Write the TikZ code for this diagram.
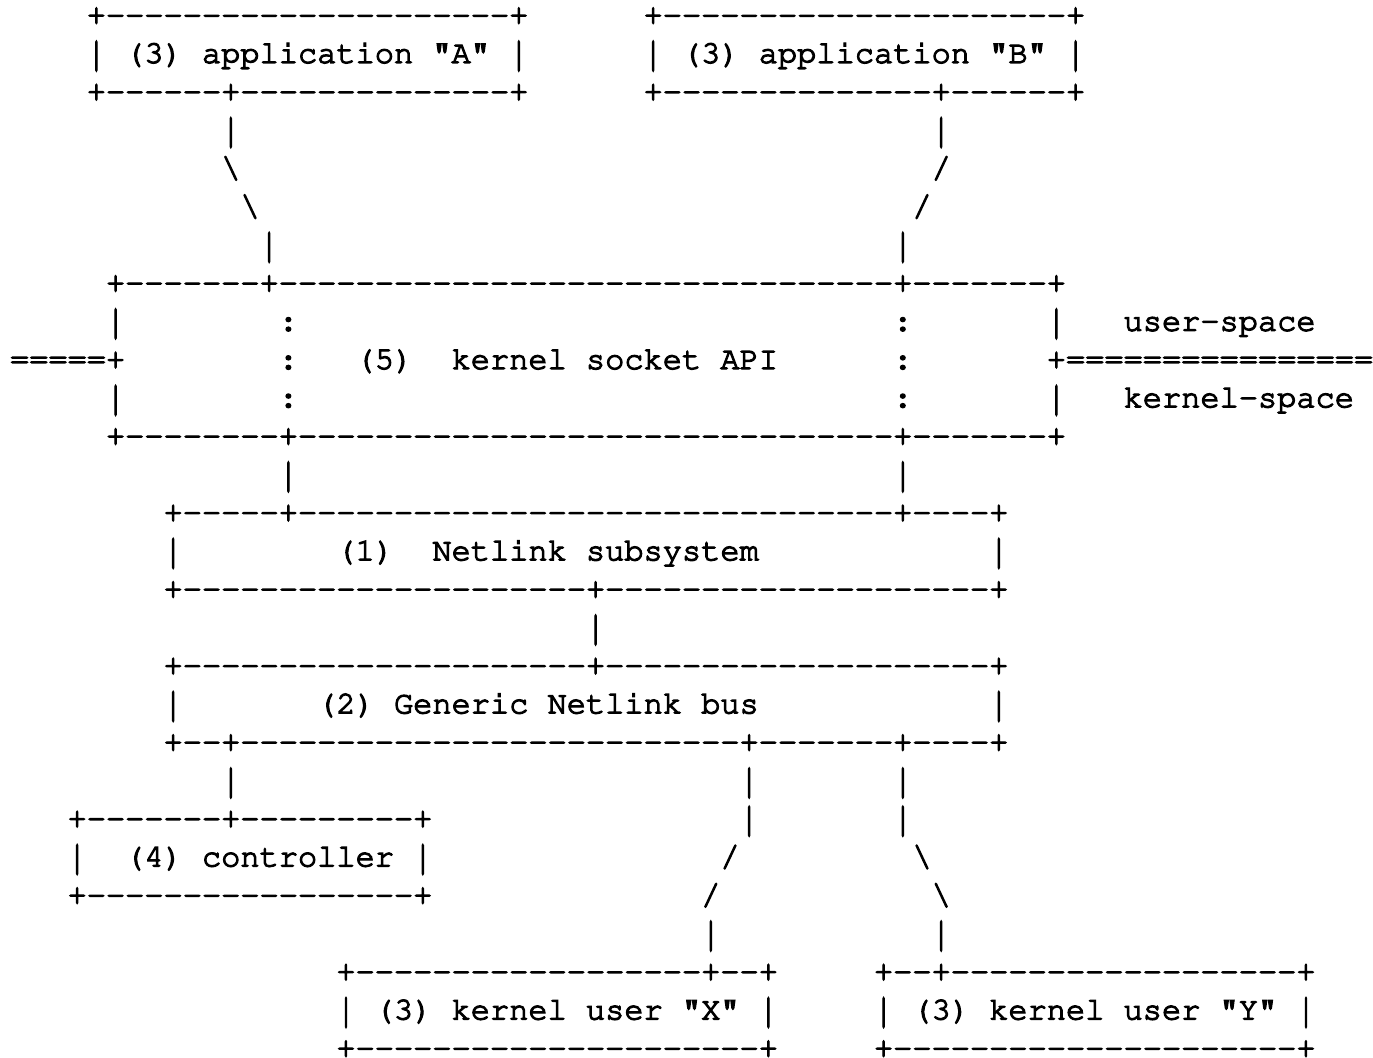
\documentclass[tikz,border=0pt]{standalone}
\usepackage[T1,TU]{fontenc}
\usepackage{graphicx}
\frenchspacing
\newcommand\rp[2]{\ifnum#1>0 #2{}\expandafter\rp\expandafter{\the\numexpr#1-1\relax}{#2}\fi}
% taller vertical bar, as in the reference's Courier
\newcommand\vb{\raisebox{-1.56pt}{\scalebox{1}[1.3]{|}}}
\newcommand\heavy{\special{pdf:literal direct 2 Tr 0.6 w}}
\tikzset{
  txt/.style={anchor=base west, inner sep=0pt, outer sep=0pt,
    font=\fontencoding{T1}\fontfamily{pcr}\fontsize{16}{19}\selectfont\frenchspacing},
  execute at begin node=\heavy
}
\newcommand\Ln[4]{\node[txt] (#1) at ({10+19.2*#2},{24.7+38.26*(#3-1)}) {#4};}
\begin{document}
\begin{tikzpicture}[x=0.5pt,y=-0.5pt]
\fill[white] (0,0) rectangle (1373,1058);
\useasboundingbox (0,0) rectangle (1373,1058);
% line 1-3: applications
\Ln{a1}{4}{1}{+\rp{21}{-}+}
\Ln{b1}{33}{1}{+\rp{21}{-}+}
\Ln{a2}{4}{2}{\vb{} (3) application "A" \vb}
\Ln{b2}{33}{2}{\vb{} (3) application "B" \vb}
\Ln{a3}{4}{3}{+\rp{6}{-}+\rp{14}{-}+}
\Ln{b3}{33}{3}{+\rp{14}{-}+\rp{6}{-}+}
% links down to socket API
\Ln{a4}{11}{4}{\vb}
\Ln{b4}{48}{4}{\vb}
\Ln{a5}{11}{5}{\textbackslash}
\Ln{b5}{48}{5}{/}
\Ln{a6}{12}{6}{\textbackslash}
\Ln{b6}{47}{6}{/}
\Ln{a7}{13}{7}{\vb}
\Ln{b7}{46}{7}{\vb}
% kernel socket API box
\Ln{k8}{5}{8}{+\rp{7}{-}+\rp{32}{-}+\rp{7}{-}+}
\Ln{k9a}{5}{9}{\vb}
\Ln{k9b}{14}{9}{:}
\Ln{k9c}{46}{9}{:}
\Ln{k9d}{54}{9}{\vb}
\Ln{us}{58}{9}{user-space}
\Ln{k10a}{0}{10}{\rp{5}{=}+}
\Ln{k10b}{14}{10}{:}
\Ln{k10c}{18}{10}{(5)}
\Ln{k10d}{23}{10}{kernel socket API}
\Ln{k10e}{46}{10}{:}
\Ln{k10f}{54}{10}{+\rp{16}{=}}
\Ln{k11a}{5}{11}{\vb}
\Ln{k11b}{14}{11}{:}
\Ln{k11c}{46}{11}{:}
\Ln{k11d}{54}{11}{\vb}
\Ln{ks}{58}{11}{kernel-space}
\Ln{k12}{5}{12}{+\rp{8}{-}+\rp{31}{-}+\rp{7}{-}+}
\Ln{c13a}{14}{13}{\vb}
\Ln{c13b}{46}{13}{\vb}
% Netlink subsystem
\Ln{n14}{8}{14}{+\rp{5}{-}+\rp{31}{-}+\rp{4}{-}+}
\Ln{n15a}{8}{15}{\vb}
\Ln{n15b}{17}{15}{(1)}
\Ln{n15c}{22}{15}{Netlink subsystem}
\Ln{n15d}{51}{15}{\vb}
\Ln{n16}{8}{16}{+\rp{21}{-}+\rp{20}{-}+}
\Ln{c17}{30}{17}{\vb}
% Generic Netlink bus
\Ln{g18}{8}{18}{+\rp{21}{-}+\rp{20}{-}+}
\Ln{g19a}{8}{19}{\vb}
\Ln{g19b}{16}{19}{(2) Generic Netlink bus}
\Ln{g19c}{51}{19}{\vb}
\Ln{g20}{8}{20}{+\rp{2}{-}+\rp{26}{-}+\rp{7}{-}+\rp{4}{-}+}
\Ln{c21a}{11}{21}{\vb}
\Ln{c21b}{38}{21}{\vb}
\Ln{c21c}{46}{21}{\vb}
% controller
\Ln{r22}{3}{22}{+\rp{7}{-}+\rp{9}{-}+}
\Ln{c22b}{38}{22}{\vb}
\Ln{c22c}{46}{22}{\vb}
\Ln{r23a}{3}{23}{\vb}
\Ln{r23b}{6}{23}{(4) controller \vb}
\Ln{c23b}{37}{23}{/}
\Ln{c23c}{47}{23}{\textbackslash}
\Ln{r24}{3}{24}{+\rp{17}{-}+}
\Ln{c24b}{36}{24}{/}
\Ln{c24c}{48}{24}{\textbackslash}
\Ln{c25b}{36}{25}{\vb}
\Ln{c25c}{48}{25}{\vb}
% kernel users
\Ln{x26}{17}{26}{+\rp{18}{-}+\rp{2}{-}+}
\Ln{y26}{45}{26}{+\rp{2}{-}+\rp{18}{-}+}
\Ln{x27}{17}{27}{\vb{} (3) kernel user "X" \vb}
\Ln{y27}{45}{27}{\vb{} (3) kernel user "Y" \vb}
\Ln{x28}{17}{28}{+\rp{21}{-}+}
\Ln{y28}{45}{28}{+\rp{21}{-}+}
\end{tikzpicture}
\end{document}
